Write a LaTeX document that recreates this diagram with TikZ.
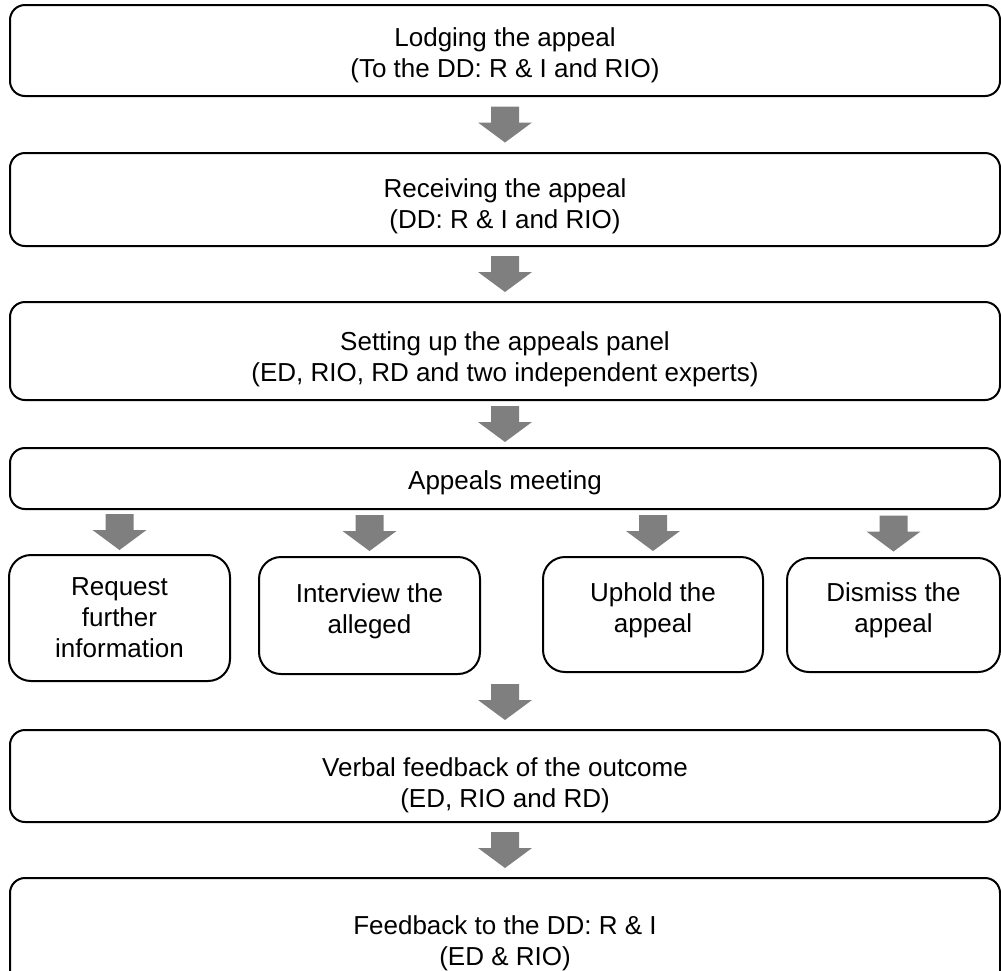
\documentclass[tikz,border=0pt]{standalone}
\usepackage{fontspec}
\setmainfont{Liberation Sans}
\usetikzlibrary{calc}
\definecolor{arrowgray}{HTML}{7F7F7F}
\newcommand\topstrut[1]{\rule{0pt}{#1}}
\newcommand\botstrut[1]{\rule[-#1]{0pt}{#1}}
\tikzset{
  mainbox/.style={draw, line width=2pt, rounded corners=15pt, minimum width=990pt,
    align=center, font=\fontsize{26}{31}\selectfont, inner sep=0pt},
  smallbox/.style={draw, line width=2pt, rounded corners=22pt,
    align=center, font=\fontsize{26}{31}\selectfont, inner sep=0pt},
  pics/downarrow/.style={code={
    \fill[arrowgray] (-14,-18) -- (14,-18) -- (14,-2) -- (27,-2) -- (0,18)
      -- (-27,-2) -- (-14,-2) -- cycle;}}
}
\begin{document}
\begin{tikzpicture}[x=1pt,y=-1pt]
\useasboundingbox (0,0) rectangle (1001,970);
\begin{scope}
\clip (0,0) rectangle (1001,970);
\node[mainbox, minimum height=91pt] (b1) at (505,50.5) {\topstrut{29pt}Lodging the appeal\\(To the DD: R \& I and RIO)};
\node[mainbox, minimum height=93pt] (b2) at (505,199.5) {\topstrut{33pt}Receiving the appeal\\(DD: R \& I and RIO)};
\node[mainbox, minimum height=98pt] (b3) at (505,351) {\topstrut{35pt}Setting up the appeals panel\\(ED, RIO, RD and two independent experts)};
\node[mainbox, minimum height=61pt] (b4) at (505,478.5) {\topstrut{27pt}Appeals meeting};
\node[smallbox, minimum width=221pt, minimum height=126pt] (s1) at (119.5,618) {Request\\further\\information};
\node[smallbox, minimum width=221pt, minimum height=117pt] (s2) at (369.5,615.5) {Interview the\\alleged\botstrut{14pt}};
\node[smallbox, minimum width=220pt, minimum height=115pt] (s3) at (653,614.5) {Uphold the\\appeal\botstrut{14pt}};
\node[smallbox, minimum width=213pt, minimum height=114pt] (s4) at (893.5,615) {Dismiss the\\appeal\botstrut{14pt}};
\node[mainbox, minimum height=92pt] (b5) at (505,776) {\topstrut{37pt}Verbal feedback of the outcome\\(ED, RIO and RD)};
\node[mainbox, minimum height=126pt] (b6) at (505,941) {\topstrut{24pt}Feedback to the DD: R \& I\\(ED \& RIO)};
\end{scope}
\pic at ($(b1.south)!0.5!(b2.north)$) {downarrow};
\pic at ($(b2.south)!0.5!(b3.north)$) {downarrow};
\pic at ($(b3.south)!0.5!(b4.north)$) {downarrow};
\foreach \s in {s1,s2,s3,s4}{
  \pic at ($(b4.south -| \s.north)!0.5!(\s.north)$) {downarrow};
}
\pic at ($(s2.south -| b5.north)!0.5!(b5.north)$) {downarrow};
\pic at ($(b5.south)!0.5!(b6.north)$) {downarrow};
\end{tikzpicture}
\end{document}
